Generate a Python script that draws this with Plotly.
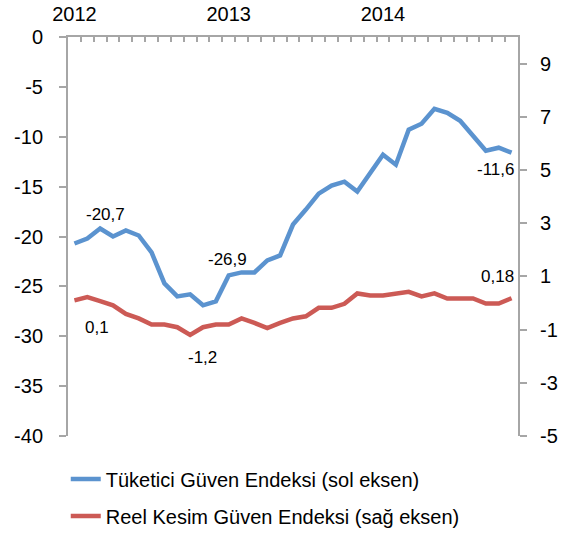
import plotly.graph_objects as go

# Categories: monthly, Jan 2012 - Nov 2014
months = [f"{y}-{m:02d}" for y in (2012, 2013, 2014) for m in range(1, 13)][:35]
year_labels = {"2012-01": "2012", "2013-01": "2013", "2014-01": "2014"}

# Tüketici Güven Endeksi (sol eksen)
consumer = [-20.7, -20.2, -19.2, -20.0, -19.4, -19.9, -21.6, -24.7, -26.0, -25.8,
            -26.9, -26.5, -23.9, -23.6, -23.6, -22.4, -21.9, -18.8, -17.3, -15.7,
            -14.9, -14.5, -15.5, -13.6, -11.8, -12.8, -9.3, -8.7, -7.2, -7.6,
            -8.4, -9.9, -11.4, -11.1, -11.6]

# Reel Kesim Güven Endeksi (sağ eksen)
real_sector = [0.1, 0.22, 0.07, -0.09, -0.41, -0.58, -0.81, -0.81, -0.91, -1.2,
               -0.91, -0.81, -0.81, -0.58, -0.75, -0.94, -0.75, -0.58, -0.5, -0.18,
               -0.18, -0.03, 0.36, 0.28, 0.28, 0.36, 0.42, 0.25, 0.36, 0.17,
               0.17, 0.17, -0.02, -0.02, 0.18]

left_ticks = [0, -5, -10, -15, -20, -25, -30, -35, -40]
right_ticks = [9, 7, 5, 3, 1, -1, -3, -5]

BLUE = "#5B93CF"
RED = "#CC5A55"
AXIS = "#A6A6A6"
FONT = "Liberation Sans, Arial, sans-serif"

fig = go.Figure()
fig.add_trace(go.Scatter(x=months, y=consumer, mode="lines",
                         name="Tüketici Güven Endeksi (sol eksen)",
                         line=dict(color=BLUE, width=4.5), legendgroup="a"))
fig.add_trace(go.Scatter(x=months, y=real_sector, mode="lines", yaxis="y2",
                         name="Reel Kesim Güven Endeksi (sağ eksen)",
                         line=dict(color=RED, width=4.5), legendgroup="b"))

def fmt(v):
    return str(v).replace(".", ",")

# data labels: (series, index, axis, xshift, yshift)
labels = [
    (consumer, 0, "y", 31, 29),
    (consumer, 10, "y", 24, 46),
    (consumer, 34, "y", -16, -17),
    (real_sector, 0, "y2", 23, -27),
    (real_sector, 9, "y2", 12, -23),
    (real_sector, 34, "y2", -14, 22),
]
for series, i, yref, xs, ys in labels:
    fig.add_annotation(x=months[i], y=series[i], xref="x", yref=yref,
                       text=fmt(series[i]), showarrow=False,
                       xshift=xs, yshift=ys,
                       font=dict(family=FONT, size=17, color="#000000"))

fig.update_layout(
    width=567, height=536,
    margin=dict(l=68, r=49, t=37, b=100),
    paper_bgcolor="white", plot_bgcolor="white",
    font=dict(family=FONT, size=20, color="#000000"),
    showlegend=True,
    legend=dict(x=-0.005, xref="paper", y=0.1425, yref="container",
                xanchor="left", yanchor="top",
                orientation="v", traceorder="grouped", tracegroupgap=8,
                font=dict(family=FONT, size=20, color="#000000"),
                bgcolor="rgba(0,0,0,0)"),
    xaxis=dict(type="category", side="top", range=[-0.5, 34.5],
               tickmode="array", tickvals=months,
               ticktext=[year_labels.get(m, "") for m in months],
               tickangle=0, automargin=False,
               tickson="boundaries", ticks="inside", ticklen=5, tickwidth=1.5,
               tickcolor=AXIS, showline=True, linecolor=AXIS, linewidth=2,
               showgrid=False, zeroline=False, ticklabelstandoff=6,
               tickfont=dict(family=FONT, size=20)),
    yaxis=dict(range=[-40, 0], tickvals=left_ticks,
               ticktext=[str(t) for t in left_ticks], automargin=False,
               ticks="outside", ticklen=7, tickwidth=1.5, tickcolor=AXIS,
               showline=True, linecolor=AXIS, linewidth=2, showgrid=False,
               zeroline=False, ticklabelstandoff=12,
               tickfont=dict(family=FONT, size=20)),
    yaxis2=dict(range=[-5, 10], overlaying="y", side="right",
                tickvals=right_ticks, ticktext=[str(t) for t in right_ticks],
                automargin=False,
                ticks="outside", ticklen=7, tickwidth=1.5, tickcolor=AXIS,
                showline=True, linecolor=AXIS, linewidth=2, showgrid=False,
                zeroline=False, ticklabelstandoff=9,
                tickfont=dict(family=FONT, size=20)),
)

fig.write_html("out.html",
               config={"displayModeBar": False},
               post_script="document.body.style.margin='0';"
                           "document.body.style.overflow='hidden';")
